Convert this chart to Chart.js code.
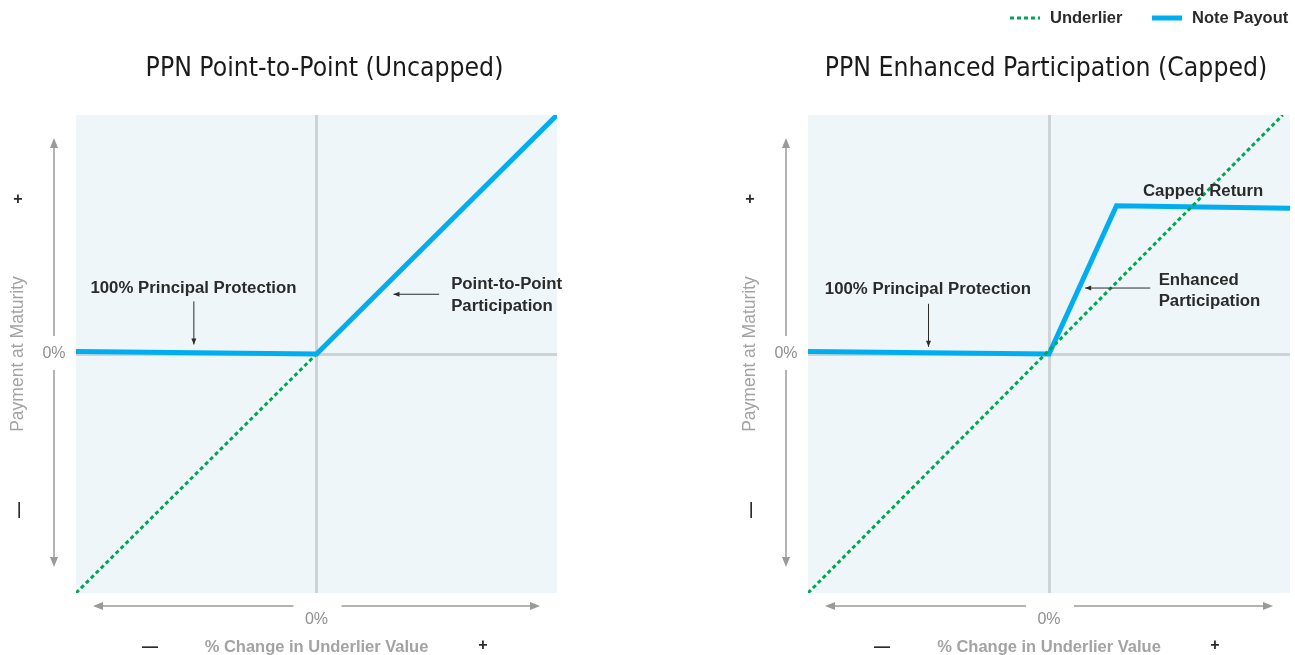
<!DOCTYPE html>
<html>
<head>
<meta charset="utf-8">
<script src="https://cdn.jsdelivr.net/npm/chart.js@4.4.0/dist/chart.umd.min.js"></script>
<style>
    body { margin: 0; background: #fff; }
    canvas { position: absolute; top: 0; }
</style>
</head>
<body>
<canvas id="leftChart" width="660" height="655" style="left:0"></canvas>
<canvas id="rightChart" width="635" height="655" style="left:660px"></canvas>
<script>
// values (both axes run from -100 to 100, 0 in the middle)
const axisMin = -100;
const axisMax = 100;
const seriesNames = ['Underlier', 'Note Payout'];
const chartTitles = ['PPN Point-to-Point (Uncapped)', 'PPN Enhanced Participation (Capped)'];
const zeroTick = '0%';
const xAxisTitle = '% Change in Underlier Value';
const yAxisTitle = 'Payment at Maturity';

const leftUnderlierX = [-100, 0, 100];
const leftUnderlierY = [-100, 0, 100];
const leftPayoutX = [-100, 0, 100];
const leftPayoutY = [1, 0, 100];

const rightUnderlierX = [-100, 97];
const rightUnderlierY = [-100, 100];
const rightPayoutX = [-100, 0, 28, 100];
const rightPayoutY = [1, 0, 62, 61];

const GREEN = '#00a651';
const BLUE = '#00aeef';
const GREY = '#9a9a9a';
const DARK = '#2b2b2b';
const FONT = "'Liberation Sans', Arial, sans-serif";
const TITLE_FONT = "'DejaVu Sans Condensed', 'Liberation Sans Narrow', sans-serif";

function toPoints(xs, ys) {
    return xs.map((x, i) => ({x: x, y: ys[i]}));
}

function arrowHead(ctx, x, y, dir, len, half) {
    ctx.beginPath();
    if (dir === 'up') { ctx.moveTo(x, y); ctx.lineTo(x - half, y + len); ctx.lineTo(x + half, y + len); }
    if (dir === 'down') { ctx.moveTo(x, y); ctx.lineTo(x - half, y - len); ctx.lineTo(x + half, y - len); }
    if (dir === 'left') { ctx.moveTo(x, y); ctx.lineTo(x + len, y - half); ctx.lineTo(x + len, y + half); }
    if (dir === 'right') { ctx.moveTo(x, y); ctx.lineTo(x - len, y - half); ctx.lineTo(x - len, y + half); }
    ctx.closePath();
    ctx.fill();
}

function line(ctx, x1, y1, x2, y2) {
    ctx.beginPath();
    ctx.moveTo(x1, y1);
    ctx.lineTo(x2, y2);
    ctx.stroke();
}

const decorPlugin = {
    id: 'decor',
    beforeDraw(chart) {
        const ca = chart.chartArea;
        const ctx = chart.ctx;
        ctx.save();
        ctx.fillStyle = '#eef6fa';
        ctx.fillRect(ca.left, ca.top, ca.right - ca.left, ca.bottom - ca.top);
        ctx.restore();
    },
    afterDraw(chart, args, opts) {
        const ctx = chart.ctx;
        const ca = chart.chartArea;
        const xs = chart.scales.x;
        const ys = chart.scales.y;
        const x0 = xs.getPixelForValue(0);
        const y0 = ys.getPixelForValue(0);
        const midX = (ca.left + ca.right) / 2;

        ctx.save();

        // title
        ctx.fillStyle = '#1a1a1a';
        ctx.font = '26.3px ' + TITLE_FONT;
        ctx.textAlign = 'center';
        ctx.textBaseline = 'middle';
        ctx.fillText(opts.title, midX + opts.titleShift, 69);

        // y axis arrow
        ctx.strokeStyle = GREY;
        ctx.fillStyle = GREY;
        ctx.lineWidth = 1.5;
        const ax = ca.left - 22;
        line(ctx, ax, ca.top + 28, ax, y0 - 18);
        line(ctx, ax, y0 + 16, ax, ca.bottom - 30);
        arrowHead(ctx, ax, ca.top + 23, 'up', 10, 4);
        arrowHead(ctx, ax, ca.bottom - 26, 'down', 10, 4);

        // x axis arrow
        const ay = ca.bottom + 13;
        line(ctx, ca.left + 22, ay, x0 - 23, ay);
        line(ctx, x0 + 25, ay, ca.right - 22, ay);
        arrowHead(ctx, ca.left + 17, ay, 'left', 10, 4);
        arrowHead(ctx, ca.right - 17, ay, 'right', 10, 4);

        // zero ticks
        ctx.font = '16px ' + FONT;
        ctx.fillStyle = '#8f8f8f';
        ctx.fillText(zeroTick, ax, y0);
        ctx.fillText(zeroTick, x0, ca.bottom + 27);

        // axis titles
        ctx.font = 'bold 16.5px ' + FONT;
        ctx.fillStyle = '#a3a3a3';
        ctx.fillText(xAxisTitle, midX, ca.bottom + 54);
        ctx.save();
        ctx.translate(ca.left - 58, y0);
        ctx.rotate(-Math.PI / 2);
        ctx.font = '17.5px ' + FONT;
        ctx.fillText(yAxisTitle, 0, 0);
        ctx.restore();

        // + / - markers
        ctx.fillStyle = DARK;
        ctx.font = 'bold 16px ' + FONT;
        ctx.fillText('\u2014', ca.left + 74, ca.bottom + 55);
        ctx.fillText('+', ca.left + 407, ca.bottom + 53);
        ctx.fillText('+', ca.left - 58, ca.top + 85);
        ctx.save();
        ctx.translate(ca.left - 56, ca.top + 395);
        ctx.rotate(-Math.PI / 2);
        ctx.fillText('\u2014', 0, 0);
        ctx.restore();

        // annotations (data coordinates)
        ctx.textAlign = 'left';
        ctx.font = 'bold 16.8px ' + FONT;
        ctx.strokeStyle = DARK;
        ctx.fillStyle = DARK;
        ctx.lineWidth = 1;
        (opts.notes || []).forEach(n => {
            const px = xs.getPixelForValue(n.x);
            const py = ys.getPixelForValue(n.y);
            n.lines.forEach((t, i) => ctx.fillText(t, px, py + i * 21.5));
        });
        (opts.arrows || []).forEach(a => {
            const x1 = xs.getPixelForValue(a.from[0]);
            const y1 = ys.getPixelForValue(a.from[1]);
            const x2 = xs.getPixelForValue(a.to[0]);
            const y2 = ys.getPixelForValue(a.to[1]);
            line(ctx, x1, y1, x2, y2);
            arrowHead(ctx, x2, y2, a.dir, 6, 2.5);
        });

        // legend
        if (opts.legend) {
            const lx = opts.legend.x;
            const ly = opts.legend.y;
            const ordered = chart.data.datasets.slice()
                .sort((a, b) => seriesNames.indexOf(a.label) - seriesNames.indexOf(b.label));
            ordered.forEach((ds, i) => {
                const bx = lx + i * 142;
                ctx.strokeStyle = ds.borderColor;
                ctx.lineWidth = ds.borderWidth;
                ctx.setLineDash(ds.borderDash || []);
                line(ctx, bx, ly, bx + 30, ly);
                ctx.setLineDash([]);
                ctx.fillStyle = DARK;
                ctx.font = 'bold 16.5px ' + FONT;
                ctx.textAlign = 'left';
                ctx.fillText(ds.label, bx + 40, ly);
            });
        }

        ctx.restore();
    }
};

function zeroGrid() {
    return {
        drawTicks: false,
        lineWidth: 3,
        color: ctx => ctx.tick && ctx.tick.value === 0 ? '#cfd3d6' : 'rgba(0,0,0,0)'
    };
}

function makeChart(id, underlier, payout, underlierOnTop, padding, decor) {
    return new Chart(document.getElementById(id), {
        type: 'line',
        data: {
            datasets: [{
                label: seriesNames[0],
                data: underlier,
                borderColor: GREEN,
                borderWidth: 3,
                borderDash: [4, 3],
                pointRadius: 0,
                order: underlierOnTop ? 0 : 1
            }, {
                label: seriesNames[1],
                data: payout,
                borderColor: BLUE,
                borderWidth: 5,
                pointRadius: 0,
                order: underlierOnTop ? 1 : 0
            }]
        },
        options: {
            responsive: false,
            animation: false,
            layout: { padding: padding },
            plugins: {
                legend: { display: false },
                tooltip: { enabled: false },
                decor: decor
            },
            scales: {
                x: {
                    type: 'linear', min: axisMin, max: axisMax,
                    ticks: { display: false, stepSize: 100 },
                    border: { display: false },
                    grid: zeroGrid()
                },
                y: {
                    type: 'linear', min: axisMin, max: axisMax,
                    ticks: { display: false, stepSize: 100 },
                    border: { display: false },
                    grid: zeroGrid()
                }
            }
        },
        plugins: [decorPlugin]
    });
}

makeChart('leftChart',
    toPoints(leftUnderlierX, leftUnderlierY),
    toPoints(leftPayoutX, leftPayoutY),
    false,
    { left: 76, right: 103, top: 115, bottom: 62 },
    {
        title: chartTitles[0],
        titleShift: 8,
        notes: [
            { x: -94, y: 27.5, lines: ['100% Principal Protection'] },
            { x: 56, y: 29, lines: ['Point-to-Point', 'Participation'] }
        ],
        arrows: [
            { from: [-51, 22], to: [-51, 4], dir: 'down' },
            { from: [51, 25], to: [32, 25], dir: 'left' }
        ]
    });

makeChart('rightChart',
    toPoints(rightUnderlierX, rightUnderlierY),
    toPoints(rightPayoutX, rightPayoutY),
    true,
    { left: 148, right: 5, top: 115, bottom: 62 },
    {
        title: chartTitles[1],
        titleShift: -3,
        notes: [
            { x: -93, y: 27, lines: ['100% Principal Protection'] },
            { x: 39, y: 68, lines: ['Capped Return'] },
            { x: 45.5, y: 31, lines: ['Enhanced', 'Participation'] }
        ],
        arrows: [
            { from: [-50, 21], to: [-50, 3], dir: 'down' },
            { from: [42, 27.6], to: [15, 27.6], dir: 'left' }
        ],
        legend: { x: 350, y: 18 }
    });
</script>
</body>
</html>
